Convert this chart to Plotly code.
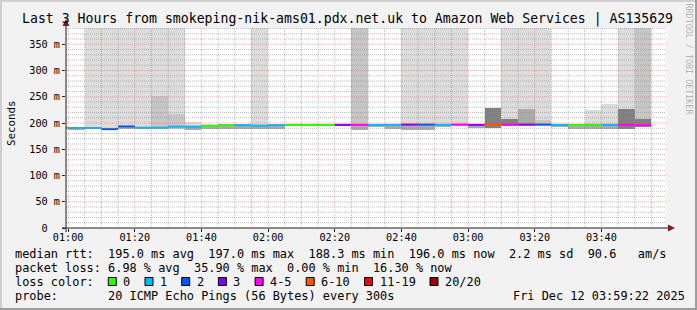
import pandas as pd
import plotly.graph_objects as go

# ---------------- data (5-minute smokeping bins) ----------------
bin_start = pd.date_range("2025-12-12 00:55:00", periods=36, freq="5min")
median_ms = [191.0, 190.5, 190.5, 188.3, 193.5, 191.0, 191.0, 193.0, 193.0, 194.5,
             196.0, 196.0, 195.0, 196.0, 196.5, 196.5, 196.5, 196.5, 196.5, 196.5,
             196.5, 197.0, 197.0, 196.5, 197.0, 196.5, 196.5, 197.0, 197.0, 197.0,
             196.5, 196.5, 196.5, 196.5, 196.5, 196.0]
lost_pings = [0, 1, 1, 2, 2, 1, 1, 1, 1, 0, 0, 1, 1, 1, 0, 0, 0, 3, 4, 1,
              1, 3, 2, 1, 4, 3, 6, 4, 3, 2, 1, 0, 0, 1, 4, 4]
smoke_min_ms = [188, 187, 188, 187, 188, 188, 188, 188, 187, 189,
                188, 188, 188, 189, 195, 195, 195, 195, 186, 194,
                188, 187, 187, 193, 194, 191, 191, 194, 194, 194,
                194, 189, 188, 188, 188, 192]
smoke_max_ms = [193, 193, 999, 999, 999, 999, 999, 999, 202, 198,
                198, 198, 999, 198, 197, 197, 197, 197, 999, 198,
                198, 999, 999, 999, 999, 198, 229, 999, 999, 999,
                198, 198, 224, 236, 999, 999]
smoke_max_density = [3, 3, 1, 1, 1, 1, 1, 1, 1, 1,
                     1, 1, 1, 1, 1, 1, 1, 1, 2, 1,
                     1, 1, 1, 1, 1, 1, 4, 1, 1, 1,
                     1, 1, 1, 1, 1, 2]
smoke_band_ms = [193, 193, 193, 191, 194, 193, 251, 217, 194, 196,
                 197.5, 197, 196, 197, 197, 197, 197, 197, 197, 197,
                 197, 198, 198, 197, 198, 197, 229, 207, 226, 205,
                 197, 197, 197, 197, 226, 207]
smoke_band_density = [3, 3, 3, 3, 3, 3, 2, 2, 3, 3,
                      3, 3, 3, 3, 3, 3, 3, 3, 3, 3,
                      3, 3, 3, 3, 3, 3, 4, 4, 3, 2,
                      3, 3, 3, 3, 4, 4]

loss_labels = ["0", "1", "2", "3", "4-5", "6-10", "11-19", "20/20"]
loss_upper = [0, 1, 2, 3, 5, 10, 19, 20]
loss_colors = ["#26ff00", "#00b8ff", "#0059ff", "#7e00ff",
               "#ff00ff", "#ff5500", "#ff0000", "#a10000"]

y_tick_vals = [0, 50, 100, 150, 200, 250, 300, 350]
y_tick_text = ["0\u00a0\u00a0", "50 m", "100 m", "150 m", "200 m", "250 m", "300 m", "350 m"]

title_text = "Last 3 Hours from smokeping-nik-ams01.pdx.net.uk to Amazon Web Services | AS135629"
legend_rtt = "median rtt:  195.0 ms avg  197.0 ms max  188.3 ms min  196.0 ms now  2.2 ms sd  90.6   am/s"
legend_loss = "packet loss: 6.98 % avg  35.90 % max  0.00 % min  16.30 % now"
legend_probe = "probe:       20 ICMP Echo Pings (56 Bytes) every 300s"
legend_date = "Fri Dec 12 03:59:22 2025"

t_end = pd.Timestamp("2025-12-12 03:59:22")
t_start = t_end - pd.Timedelta(hours=3)
y_max = 381

# ---------------- geometry helpers ----------------
W, H = 697, 310
L, R, T, B = 66, 666, 28, 228
FONT = "DejaVu Sans Mono"


def fx(px):
    return (px - L) / (R - L)


def fy(py):
    return (B - py) / (B - T)


shade = {1: "#dcdcdc", 2: "#c6c6c6", 3: "#ababab", 4: "#808080"}
step = pd.Timedelta(minutes=5)
step_ms = 300000
centers = bin_start + step / 2

fig = go.Figure()

# smoke (outer range, then denser band)
fig.add_trace(go.Bar(
    x=centers, base=smoke_min_ms,
    y=[mx - mn for mx, mn in zip(smoke_max_ms, smoke_min_ms)],
    width=step_ms, marker=dict(color=[shade[d] for d in smoke_max_density], line=dict(width=0)),
    hoverinfo="skip"))
fig.add_trace(go.Bar(
    x=centers, base=smoke_min_ms,
    y=[bt - mn for bt, mn in zip(smoke_band_ms, smoke_min_ms)],
    width=step_ms, marker=dict(color=[shade[d] for d in smoke_band_density], line=dict(width=0)),
    hoverinfo="skip"))


def loss_class(n):
    for i, up in enumerate(loss_upper):
        if n <= up:
            return i
    return len(loss_upper) - 1


# median line coloured by loss
for ci, col in enumerate(loss_colors):
    xs, ys = [], []
    for i in range(len(bin_start)):
        if loss_class(lost_pings[i]) == ci:
            xs += [bin_start[i], bin_start[i] + step, None]
            ys += [median_ms[i], median_ms[i], None]
    if xs:
        fig.add_trace(go.Scatter(x=xs, y=ys, mode="lines",
                                 line=dict(color=col, width=2), hoverinfo="skip"))

shapes = []
minor_c = "rgba(143,143,143,0.6)"
major_c = "rgba(222,79,79,0.42)"
# vertical grid
for t in pd.date_range("2025-12-12 01:00", t_end, freq="5min"):
    major = (t.minute % 20 == 0)
    shapes.append(dict(type="line", xref="x", yref="paper", x0=t, x1=t, y0=0, y1=1,
                       line=dict(color=major_c if major else minor_c, width=1, dash="1px,1px"),
                       layer="above"))
# horizontal grid
for v in range(10, y_max, 10):
    major = (v % 50 == 0)
    shapes.append(dict(type="line", xref="paper", yref="y",
                       x0=fx(L - 2) if major else 0, x1=fx(R + 2) if major else 1, y0=v, y1=v,
                       line=dict(color=major_c if major else minor_c, width=1, dash="1px,1px"),
                       layer="above"))

axis_c = "#1f1f1f"
arrow_c = "#801f1f"
shapes += [
    dict(type="line", xref="paper", yref="paper", x0=fx(62), x1=fx(669), y0=fy(B), y1=fy(B),
         line=dict(color=axis_c, width=1), layer="above"),
    dict(type="line", xref="paper", yref="paper", x0=fx(L), x1=fx(L), y0=fy(B + 4), y1=fy(23),
         line=dict(color=axis_c, width=1), layer="above"),
    dict(type="path", xref="paper", yref="paper",
         path=f"M {fx(668)},{fy(B-3.5)} L {fx(675)},{fy(B)} L {fx(668)},{fy(B+3.5)} Z",
         fillcolor=arrow_c, line=dict(width=0), layer="above"),
    dict(type="path", xref="paper", yref="paper",
         path=f"M {fx(L-3.5)},{fy(26)} L {fx(L)},{fy(19)} L {fx(L+3.5)},{fy(26)} Z",
         fillcolor=arrow_c, line=dict(width=0), layer="above"),
    # 3D frame
    dict(type="rect", xref="paper", yref="paper", x0=fx(0), x1=fx(W), y0=fy(0), y1=fy(2),
         fillcolor="#cfcfcf", line=dict(width=0), layer="below"),
    dict(type="rect", xref="paper", yref="paper", x0=fx(0), x1=fx(2), y0=fy(0), y1=fy(H),
         fillcolor="#cfcfcf", line=dict(width=0), layer="below"),
    dict(type="rect", xref="paper", yref="paper", x0=fx(0), x1=fx(W), y0=fy(H - 2), y1=fy(H),
         fillcolor="#9e9e9e", line=dict(width=0), layer="below"),
    dict(type="rect", xref="paper", yref="paper", x0=fx(W - 2), x1=fx(W), y0=fy(0), y1=fy(H),
         fillcolor="#9e9e9e", line=dict(width=0), layer="below"),
]

annotations = []


def text(px, py, s, size, anchor="left", angle=0, color="#000000"):
    annotations.append(dict(xref="paper", yref="paper", x=fx(px), y=fy(py),
                            text=s.replace(" ", "\u00a0"), showarrow=False,
                            xanchor=anchor, yanchor="middle", textangle=angle,
                            borderpad=0, borderwidth=0,
                            font=dict(family=FONT, size=size, color=color)))


text(347, 19, title_text, 13.2, anchor="center")
text(11, 123, "Seconds", 10.8, anchor="center", angle=-90)
text(688.5, 59, "RRDTOOL / TOBI OETIKER", 8.4, anchor="center", angle=90, color="#b4b4b4")
LEG = 11.9
text(14.5, 254, legend_rtt, LEG)
text(14.5, 268, legend_loss, LEG)
text(14.5, 282, "loss color:", LEG)
text(14.5, 296, legend_probe, LEG)
text(513, 296, legend_date, LEG)

# loss colour swatches
sw_x = 108.3
for lab, col in zip(loss_labels, loss_colors):
    shapes.append(dict(type="rect", xref="paper", yref="paper",
                       x0=fx(sw_x), x1=fx(sw_x + 8), y0=fy(277.5), y1=fy(285.5),
                       fillcolor=col, line=dict(color="#000000", width=1), layer="above"))
    text(sw_x + 15, 282, lab, LEG)
    sw_x += 36.7 + 7.2 * (len(lab) - 1)

fig.update_layout(
    width=W, height=H, autosize=False,
    margin=dict(l=L, r=W - R, t=T, b=H - B, pad=0),
    paper_bgcolor="#f2f2f2", plot_bgcolor="#ffffff",
    showlegend=False, barmode="overlay", bargap=0, hovermode=False,
    font=dict(family=FONT, color="#000000"),
    shapes=shapes, annotations=annotations,
    xaxis=dict(type="date", range=[t_start, t_end], tickformat="%H:%M",
               tick0="2025-12-12 01:00:00", dtick=20 * 60 * 1000,
               showgrid=False, zeroline=False, showline=False,
               ticks="outside", ticklen=3, tickcolor=axis_c, ticklabelstandoff=-3,
               tickfont=dict(family=FONT, size=10.2, color="#000000")),
    yaxis=dict(range=[0, y_max], tickvals=y_tick_vals, ticktext=y_tick_text,
               showgrid=False, zeroline=False, showline=False,
               ticks="outside", ticklen=3, tickcolor=axis_c,
               tickfont=dict(family=FONT, size=10.2, color="#000000")),
)

fig.write_html("out.html")
